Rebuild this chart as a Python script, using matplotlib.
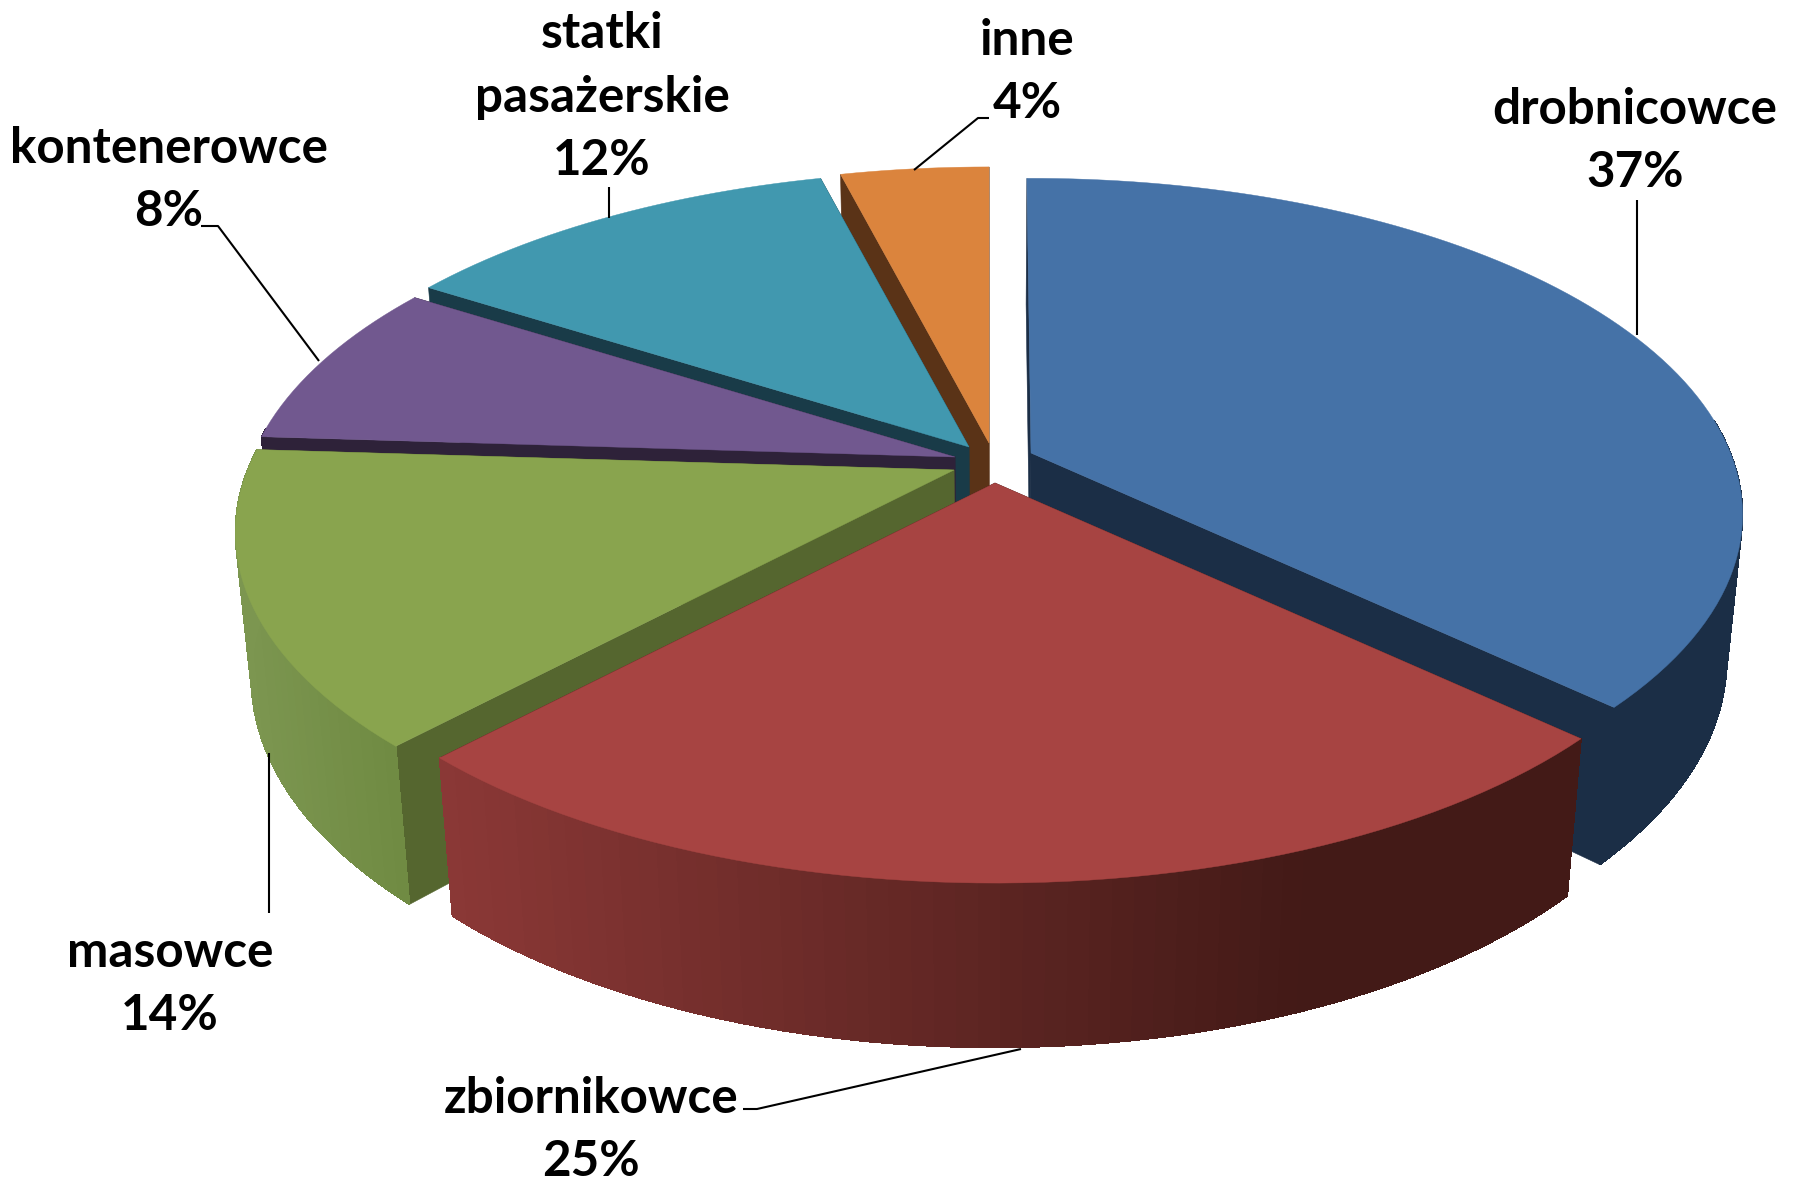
import numpy as np
import matplotlib
matplotlib.use('Agg')
import matplotlib.pyplot as plt
from matplotlib.patches import Polygon

nazwy = ['drobnicowce', 'zbiornikowce', 'masowce', 'kontenerowce', 'statki\npasażerskie', 'inne']
udzialy = [37, 25, 14, 8, 12, 4]

# kolory: wierzch, sciana ciecia, bok lewy, bok prawy
kolor_top = ['#4572A7', '#A74442', '#89A44E', '#71588F', '#4198AF', '#DB843D']
kolor_ciecie = ['#1B2E46', '#431B18', '#55662F', '#2E2239', '#193B48', '#5A3317']
kolor_bok_l = ['#1B2E46', '#8B3836', '#7C9650', '#2E2239', '#193B48', '#5A3317']
kolor_bok_p = ['#1B2E46', '#431A17', '#6F8A42', '#2E2239', '#193B48', '#5A3317']

# wierzcholek kazdego wycinka w pikselach (explode) i skala promienia
srodek_x = [1031, 995, 954, 955, 969, 989]
srodek_y = [453, 483, 470, 457, 447, 443]
skala = [0.995, 1.0, 1.005, 1.0, 1.0, 1.0]
kolejnosc = [5, 4, 3, 0, 2, 1]

Rx, Ry, k, m, H = 703, 326.7, 0.1834, 0.0208, 146
x0 = 990
nudge_blue = -0.4

pozycje_tekstu = [(1635, 141), (591, 1130), (170, 984), (169, 180), (602, 97), (1027, 72)]
linie = [
    [(1637, 200), (1637, 335)],
    [(743, 1109), (757, 1109), (1021, 1049)],
    [(269, 753), (269, 913)],
    [(201, 226), (218, 226), (319, 361)],
    [(609, 187), (609, 218)],
    [(989, 118), (978, 118), (914, 170)],
]


def punkt(i, kat, r, z):
    # rzut punktu z tarczy na obraz, z lekka perspektywa
    u = r * np.sin(kat)
    v = r * np.cos(kat)
    w = 1 + k * v + m * z
    x = x0 + (srodek_x[i] - x0) / (1 + m * z) + skala[i] * Rx * u / w
    y = srodek_y[i] - skala[i] * Ry * v / w + H * z / w
    return x, y


def mieszaj(c1, c2, t):
    a = np.array(matplotlib.colors.to_rgb(c1))
    b = np.array(matplotlib.colors.to_rgb(c2))
    return tuple((1 - t) * a + t * b)


def rysuj_wycinek(ax, i, start, koniec):
    katy = np.linspace(start, koniec, int((koniec - start) / np.radians(1.5)) + 2)
    # sciany ciecia
    for kat in (start, koniec):
        pts = [punkt(i, kat, 1, 0), punkt(i, kat, 0, 0), punkt(i, kat, 0, 1), punkt(i, kat, 1, 1)]
        ax.add_patch(Polygon(pts, fc=kolor_ciecie[i], ec=kolor_ciecie[i], lw=0.4))
    # bok: paski z gradientem, najpierw gladkie dla krawedzi, potem bez szwow
    for wygladz in (True, False):
        for a, b in zip(katy[:-1], katy[1:]):
            if np.cos((a + b) / 2) > 0.1:  # tyl tarczy i tak zasloniety
                continue
            xs = punkt(i, (a + b) / 2, 1, 0)[0]
            t = np.clip((xs - 440) / (1300 - 440), 0, 1) if i == 1 else np.clip((xs - 240) / 160, 0, 1)
            kol = mieszaj(kolor_bok_l[i], kolor_bok_p[i], t)
            pts = [punkt(i, a, 1, 0), punkt(i, b, 1, 0), punkt(i, b, 1, 1), punkt(i, a, 1, 1)]
            ax.add_patch(Polygon(pts, fc=kol, ec=kol, lw=0.4, antialiased=wygladz))
    # wierzch
    pts = [punkt(i, 0, 0, 0)] + [punkt(i, a, 1, 0) for a in katy]
    ax.add_patch(Polygon(pts, fc=kolor_top[i], ec=kolor_top[i], lw=0.3))


fig = plt.figure(figsize=(17.99, 11.81), dpi=100)
ax = fig.add_axes([0, 0, 1, 1])
ax.set_xlim(0, 1799)
ax.set_ylim(1181, 0)
ax.axis('off')

suma = np.cumsum([0] + udzialy) / sum(udzialy) * 2 * np.pi
for i in kolejnosc:
    start = suma[i] + (np.radians(nudge_blue) if i == 0 else 0)
    rysuj_wycinek(ax, i, start, suma[i + 1])

for linia in linie:
    ax.plot([p[0] for p in linia], [p[1] for p in linia], color='black', lw=1.5, solid_capstyle='butt', zorder=5)

for nazwa, udzial, poz in zip(nazwy, udzialy, pozycje_tekstu):
    ax.text(poz[0], poz[1], f'{nazwa}\n{udzial}%', ha='center', va='center', family='Lato',
            fontweight='bold', fontsize=35.6, linespacing=1.5, color='black', zorder=6)

fig.savefig('out.png', dpi=100)
